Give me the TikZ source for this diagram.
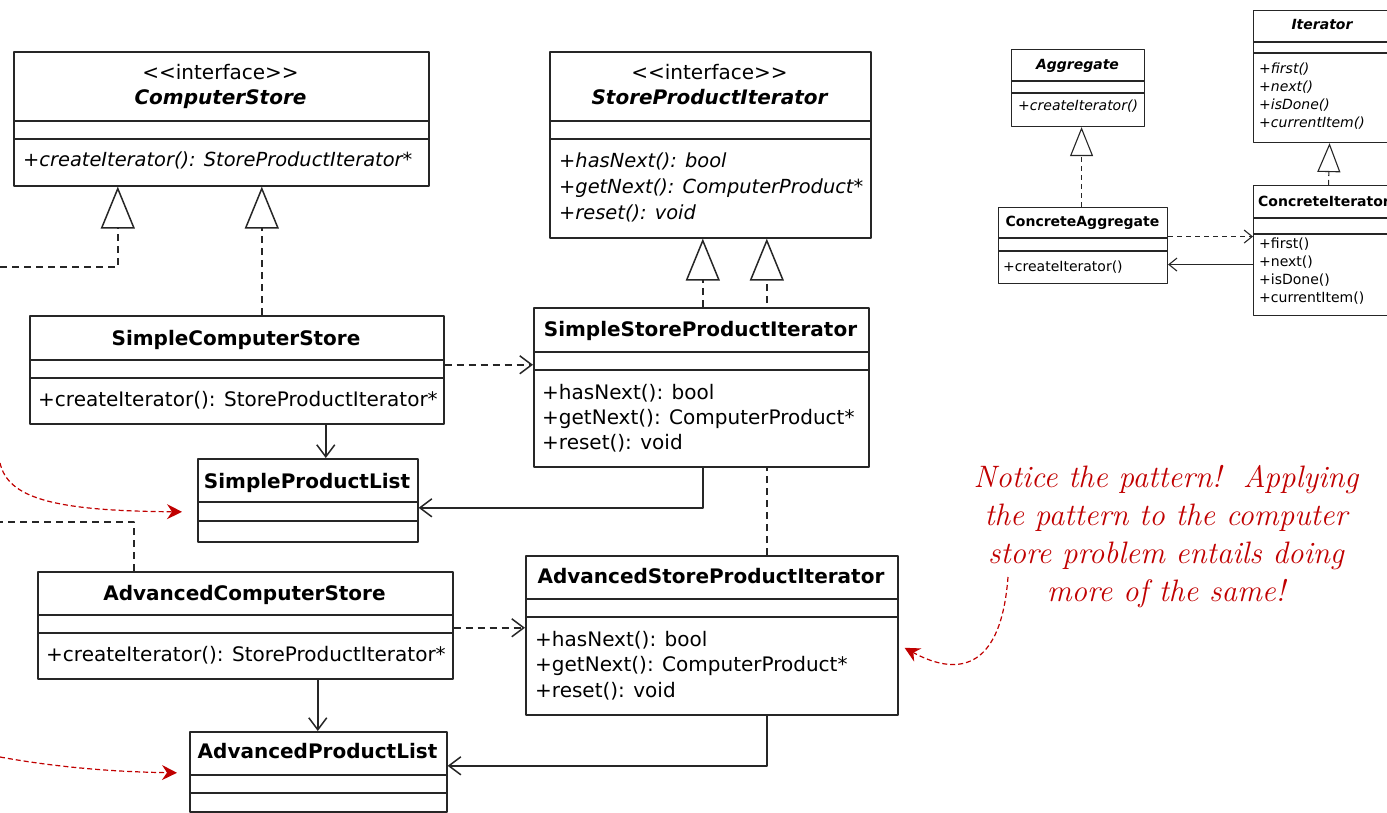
\documentclass[tikz,border=0pt]{standalone}
\usepackage{fontspec}
\newfontfamily\umlfont{DejaVu Sans}
\usetikzlibrary{arrows.meta,backgrounds}
\definecolor{notered}{RGB}{192,0,0}
\definecolor{umlgray}{RGB}{38,38,38}
\tikzset{
  umlbox/.style={draw=umlgray, fill=white, line width=1.6pt, inner sep=0pt, anchor=north west},
  umlsep/.style={draw=umlgray, line width=1.6pt},
  smallbox/.style={umlbox, line width=1.1pt},
  smallsep/.style={umlsep, line width=1.1pt},
  classname/.style={font=\umlfont\bfseries\fontsize{20}{24}\selectfont, anchor=base, inner sep=0pt},
  ifacename/.style={classname, font=\umlfont\bfseries\itshape\fontsize{20}{24}\selectfont},
  stereo/.style={classname, font=\umlfont\fontsize{20}{24}\selectfont},
  member/.style={font=\umlfont\fontsize{20}{24}\selectfont, anchor=base west, inner sep=0pt},
  absmember/.style={member, font=\umlfont\itshape\fontsize{19.4}{24}\selectfont},
  smallname/.style={classname, font=\umlfont\bfseries\fontsize{14}{18}\selectfont},
  smallabsname/.style={classname, font=\umlfont\bfseries\itshape\fontsize{14}{18}\selectfont},
  smallmember/.style={member, font=\umlfont\fontsize{14}{18}\selectfont},
  smallabsmember/.style={member, font=\umlfont\itshape\fontsize{14}{18}\selectfont},
  dashpath/.style={draw=umlgray, line width=1.5pt, dash pattern=on 7pt off 5pt},
  realize/.style={dashpath, -{Triangle[open,length=42pt,width=34pt]}},
  depend/.style={dashpath, -{Straight Barb[length=12pt,width=18pt]}},
  assoc/.style={draw=umlgray, line width=1.5pt, -{Straight Barb[length=12pt,width=18pt]}},
  smallrealize/.style={dashpath, line width=1.1pt, dash pattern=on 5pt off 4pt, -{Triangle[open,length=29pt,width=23pt]}},
  smalldepend/.style={dashpath, line width=1.1pt, dash pattern=on 5pt off 4pt, -{Straight Barb[length=8pt,width=13pt]}},
  smallassoc/.style={assoc, line width=1.1pt, -{Straight Barb[length=8pt,width=13pt]}},
  hint/.style={draw=notered, line width=1.2pt, dash pattern=on 5pt off 3pt, -{Stealth[length=15pt,width=15pt,inset=5pt]}},
  note/.style={font=\normalfont\itshape\fontsize{31}{38}\selectfont, text=notered, align=center, inner sep=0pt}
}
\begin{document}
\begin{tikzpicture}[x=1pt, y=-1pt, line join=round]
  \useasboundingbox (0,0) rectangle (1387,813);
  % interfaces
  \node[umlbox, minimum width=415pt, minimum height=134pt] (cstore) at (13,51) {};
  \draw[umlsep] (13,121) -- (428,121);
  \draw[umlsep] (13,139) -- (428,139);
  \node[stereo] (cstore-st) at (220.5,80) {<\kern0pt<interface>\kern0pt>};
  \node[ifacename] (cstore-nm) at (220.5,105) {ComputerStore};
  \node[absmember] (cstore-m1) at (23,167) {+createIterator(): StoreProductIterator*};

  \node[umlbox, minimum width=321pt, minimum height=186pt] (spi) at (549,51) {};
  \draw[umlsep] (549,121) -- (870,121);
  \draw[umlsep] (549,139) -- (870,139);
  \node[stereo] (spi-st) at (709.5,80) {<\kern0pt<interface>\kern0pt>};
  \node[ifacename] (spi-nm) at (709.5,105) {StoreProductIterator};
  \foreach \m [count=\i] in {{+hasNext(): bool},{+getNext(): ComputerProduct*},{+reset(): void}}
    \node[absmember] (spi-m\i) at (559,{142+26*\i}) {\m};

  % simple classes
  \node[umlbox, minimum width=414pt, minimum height=108pt] (scs) at (29,315) {};
  \draw[umlsep] (29,360) -- (443,360);
  \draw[umlsep] (29,378) -- (443,378);
  \node[classname] (scs-nm) at (236,345) {SimpleComputerStore};
  \node[member] (scs-m1) at (38,406) {+createIterator(): StoreProductIterator*};

  \node[umlbox, minimum width=220pt, minimum height=83pt] (spl) at (197,458) {};
  \draw[umlsep] (197,502) -- (417,502);
  \draw[umlsep] (197,521) -- (417,521);
  \node[classname] (spl-nm) at (307,488) {SimpleProductList};

  \node[umlbox, minimum width=335pt, minimum height=159pt] (sspi) at (533,307) {};
  \draw[umlsep] (533,352) -- (868,352);
  \draw[umlsep] (533,370) -- (868,370);
  \node[classname] (sspi-nm) at (700.5,336) {SimpleStoreProductIterator};
  \foreach \m [count=\i] in {{+hasNext(): bool},{+getNext(): ComputerProduct*},{+reset(): void}}
    \node[member] (sspi-m\i) at (542,{374+25*\i}) {\m};

  % advanced classes
  \node[umlbox, minimum width=415pt, minimum height=107pt] (acs) at (37,571) {};
  \draw[umlsep] (37,615) -- (452,615);
  \draw[umlsep] (37,633) -- (452,633);
  \node[classname] (acs-nm) at (244.5,600) {AdvancedComputerStore};
  \node[member] (acs-m1) at (46,661) {+createIterator(): StoreProductIterator*};

  \node[umlbox, minimum width=257pt, minimum height=80pt] (apl) at (189,731) {};
  \draw[umlsep] (189,775) -- (446,775);
  \draw[umlsep] (189,793) -- (446,793);
  \node[classname] (apl-nm) at (317.5,758) {AdvancedProductList};

  \node[umlbox, minimum width=372pt, minimum height=159pt] (aspi) at (525,555) {};
  \draw[umlsep] (525,599) -- (897,599);
  \draw[umlsep] (525,617) -- (897,617);
  \node[classname] (aspi-nm) at (711,583) {AdvancedStoreProductIterator};
  \foreach \m [count=\i] in {{+hasNext(): bool},{+getNext(): ComputerProduct*},{+reset(): void}}
    \node[member] (aspi-m\i) at (535,{620.5+25.5*\i}) {\m};

  % the pattern itself
  \node[smallbox, minimum width=133pt, minimum height=77pt] (agg) at (1011,49) {};
  \draw[smallsep] (1011,81) -- (1144,81);
  \draw[smallsep] (1011,93) -- (1144,93);
  \node[smallabsname] (agg-nm) at (1077.5,70) {Aggregate};
  \node[smallabsmember] (agg-m1) at (1018,111) {+createIterator()};

  \node[smallbox, minimum width=169pt, minimum height=76pt] (cagg) at (998,207) {};
  \draw[smallsep] (998,238) -- (1167,238);
  \draw[smallsep] (998,251) -- (1167,251);
  \node[smallname] (cagg-nm) at (1082.5,227) {ConcreteAggregate};
  \node[smallmember] (cagg-m1) at (1003,272) {+createIterator()};

  \node[smallbox, minimum width=140pt, minimum height=132pt] (iter) at (1253,10) {};
  \draw[smallsep] (1253,42) -- (1393,42);
  \draw[smallsep] (1253,53) -- (1393,53);
  \node[smallabsname] (iter-nm) at (1322,30) {Iterator};
  \foreach \m [count=\i] in {+first(),+next(),+isDone(),+currentItem()}
    \node[smallabsmember] (iter-m\i) at (1259,{56+18*\i}) {\m};

  \node[smallbox, minimum width=142pt, minimum height=130pt] (citer) at (1253,185) {};
  \draw[smallsep] (1253,218) -- (1395,218);
  \draw[smallsep] (1253,234) -- (1395,234);
  \node[smallname] (citer-nm) at (1324,207) {ConcreteIterator};
  \foreach \m [count=\i] in {+first(),+next(),+isDone(),+currentItem()}
    \node[smallmember] (citer-m\i) at (1259,{230+18*\i}) {\m};

  % connectors
  \coordinate (offA) at (0,267);
  \coordinate (offB) at (0,522);
  \draw[realize] (offA) -| ([xshift=-103.5pt]cstore.south);
  \draw[dashpath] ([xshift=-111.5pt]acs.north) |- (offB);
  \draw[realize] ([xshift=25pt]scs.north) -- ([xshift=40.5pt]cstore.south);
  \draw[realize] ([xshift=1.5pt]sspi.north) -- ([xshift=-7.5pt]spi.south);
  \begin{scope}[on background layer]
    \draw[realize] ([xshift=55pt]aspi.north) -- ([xshift=56.5pt]spi.south);
  \end{scope}
  \draw[assoc] ([xshift=89pt]scs.south) -- ([xshift=18pt]spl.north);
  \draw[assoc] ([xshift=1.5pt]sspi.south) |- ([yshift=-7.5pt]spl.east);
  \draw[depend] ([yshift=5pt]scs.east) -- ([yshift=22.5pt]sspi.west);
  \draw[assoc] ([xshift=72.5pt]acs.south) -- ([xshift=-0.5pt]apl.north);
  \draw[assoc] ([xshift=55pt]aspi.south) |- ([yshift=6pt]apl.east);
  \draw[depend] ([yshift=-2.5pt]acs.east) -- ([yshift=7.5pt]aspi.west);

  \draw[smallrealize] ([xshift=-1.5pt]cagg.north) -- ([xshift=3.5pt]agg.south);
  \draw[smallrealize] ([xshift=4pt]citer.north) -- ([xshift=6pt]iter.south);
  \draw[smalldepend] ([yshift=9pt]cagg.east) -- ([yshift=14pt]citer.west);
  \draw[smallassoc] ([yshift=-14pt]citer.west) -- ([yshift=-19pt]cagg.east);

  % the remark
  \node[note] (note) at (1166,537) {Notice the pattern!\ \ Applying\\ the pattern to the computer\\ store problem entails doing\\ more of the same!};
  \coordinate (hintA) at (0,463);
  \coordinate (hintB) at (0,757);
  \coordinate (hintC) at (1008,577);
  \draw[hint] (hintA) .. controls (8,497) and (50,511) .. ([xshift=-15pt,yshift=-11.5pt]spl.west);
  \draw[hint] (hintB) .. controls (60,768) and (120,772) .. ([xshift=-12pt,yshift=-1pt]apl.west);
  \draw[hint] (hintC) .. controls (1000,684) and (945,670) .. ([xshift=6pt,yshift=-12.5pt]aspi.east);
\end{tikzpicture}
\end{document}
